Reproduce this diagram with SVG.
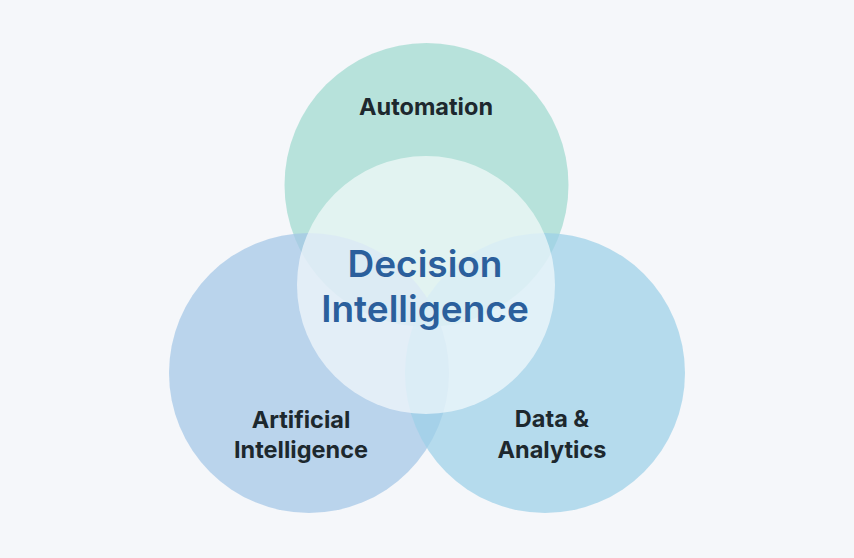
<svg xmlns="http://www.w3.org/2000/svg" width="854" height="558" viewBox="0 0 854 558">
  <style>
    .lbl { font-family: Inter, "Liberation Sans", sans-serif; font-weight: 700; font-size: 23.5px; fill: #1d282e; text-anchor: middle; }
    .ctr { font-family: Inter, "Liberation Sans", sans-serif; font-weight: 600; font-size: 37px; fill: #2b5f9c; text-anchor: middle; }
    .c { opacity: 0.72; }
  </style>
  <rect width="854" height="558" fill="#f5f7fa"/>
  <g id="automation">
    <circle class="c" cx="426.5" cy="185" r="142" fill="#9fd9cf"/>
    <text class="lbl" x="426" y="115">Automation</text>
  </g>
  <g id="artificial-intelligence">
    <circle class="c" cx="309" cy="373" r="140" fill="#a4c6e6"/>
    <text class="lbl" x="301" y="428">Artificial</text>
    <text class="lbl" x="301" y="458">Intelligence</text>
  </g>
  <g id="data-analytics">
    <circle class="c" cx="545" cy="373" r="140" fill="#9dd0e8"/>
    <text class="lbl" x="552" y="427">Data &amp;</text>
    <text class="lbl" x="552" y="458">Analytics</text>
  </g>
  <g id="decision-intelligence">
    <circle cx="426" cy="285" r="129" fill="#ffffff" opacity="0.6"/>
    <text class="ctr" x="425" y="277">Decision</text>
    <text class="ctr" x="425" y="322">Intelligence</text>
  </g>
  <g id="connectors"></g>
</svg>
